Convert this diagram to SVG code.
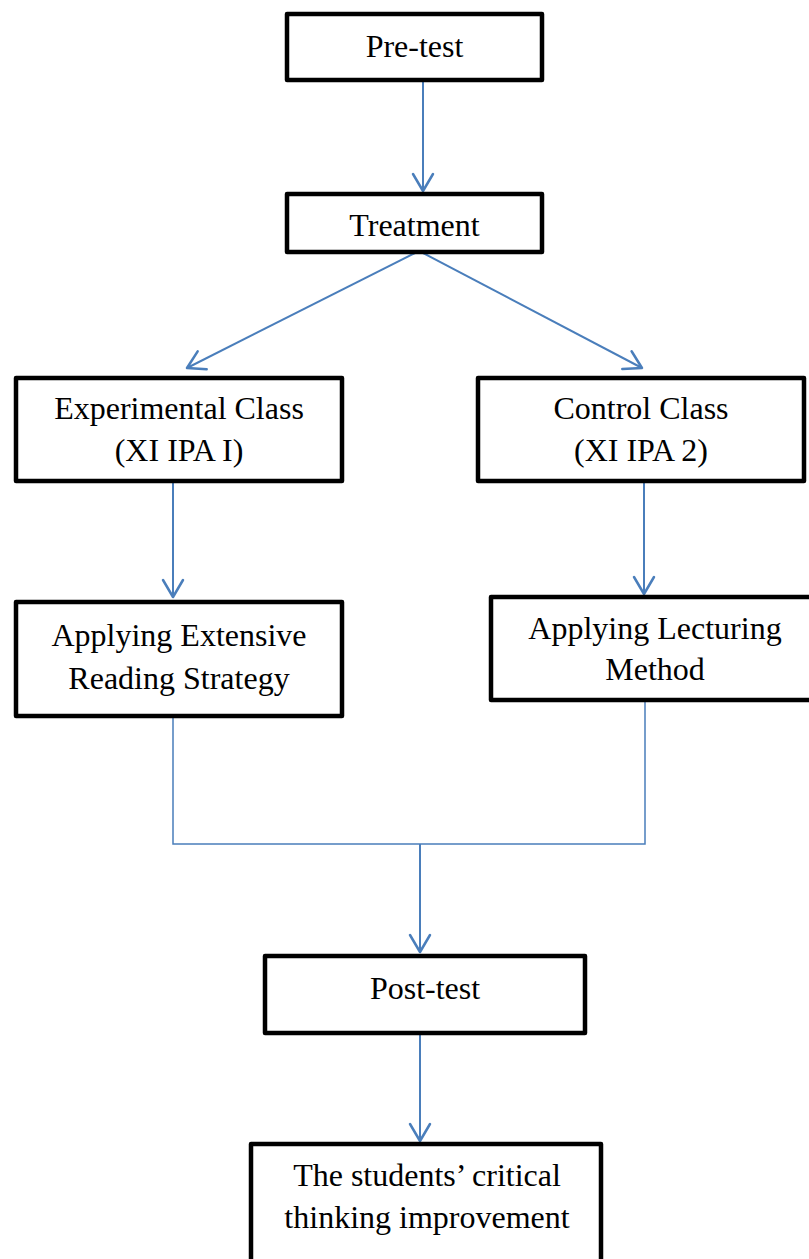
<svg xmlns="http://www.w3.org/2000/svg" width="809" height="1259" viewBox="0 0 809 1259">
<style>
.box{fill:#fff;stroke:#000;stroke-width:4.5;stroke-linejoin:round}
.t{font-family:"Liberation Serif","Times New Roman",serif;font-size:32px;fill:#000;text-anchor:middle}
.ar{fill:none;stroke:#4a7ebb;stroke-width:2}
.th{fill:none;stroke:#4a7ebb;stroke-width:1.5}
</style>
<defs>
<marker id="ah" markerUnits="userSpaceOnUse" markerWidth="40" markerHeight="40" viewBox="-20 -20 40 40" refX="0" refY="0" orient="auto">
<path d="M-17,-10 L0,0 L-17,10" fill="none" stroke="#4a7ebb" stroke-width="2.5" stroke-linecap="round" stroke-linejoin="round"/>
</marker>
</defs>
<rect width="809" height="1259" fill="#fff"/>
<g id="connectors">
<line class="ar" x1="423" y1="82" x2="423" y2="191" marker-end="url(#ah)"/>
<line class="ar" x1="415" y1="253" x2="187" y2="368" marker-end="url(#ah)"/>
<line class="ar" x1="423" y1="253" x2="642" y2="368" marker-end="url(#ah)"/>
<line class="ar" x1="173" y1="483" x2="173" y2="597" marker-end="url(#ah)"/>
<line class="ar" x1="644" y1="483" x2="644" y2="594" marker-end="url(#ah)"/>
<polyline class="th" points="173,718 173,844 645,844 645,702"/>
<line class="ar" x1="420" y1="844" x2="420" y2="952" marker-end="url(#ah)"/>
<line class="ar" x1="420" y1="1035" x2="420" y2="1141" marker-end="url(#ah)"/>
</g>
<g id="pretest">
<rect class="box" x="287" y="14" width="255" height="66"/>
<text class="t" x="414.5" y="57">Pre-test</text>
</g>
<g id="treatment">
<rect class="box" x="287" y="194" width="255" height="58"/>
<text class="t" x="414.5" y="236">Treatment</text>
</g>
<g id="experimental">
<rect class="box" x="16" y="378" width="326" height="103"/>
<text class="t" x="179" y="419">Experimental Class</text>
<text class="t" x="179" y="461">(XI IPA I)</text>
</g>
<g id="control">
<rect class="box" x="478" y="378" width="326" height="103"/>
<text class="t" x="641" y="419">Control Class</text>
<text class="t" x="641" y="461">(XI IPA 2)</text>
</g>
<g id="extensive">
<rect class="box" x="16" y="602" width="326" height="114"/>
<text class="t" x="179" y="646">Applying Extensive</text>
<text class="t" x="179" y="689">Reading Strategy</text>
</g>
<g id="lecturing">
<rect class="box" x="491" y="597" width="330" height="103"/>
<text class="t" x="655" y="639">Applying Lecturing</text>
<text class="t" x="655" y="680">Method</text>
</g>
<g id="posttest">
<rect class="box" x="265" y="956" width="320" height="77"/>
<text class="t" x="425" y="999">Post-test</text>
</g>
<g id="result">
<rect class="box" x="251" y="1144" width="350" height="150"/>
<text class="t" x="427" y="1186">The students’ critical</text>
<text class="t" x="427" y="1228">thinking improvement</text>
</g>
</svg>
